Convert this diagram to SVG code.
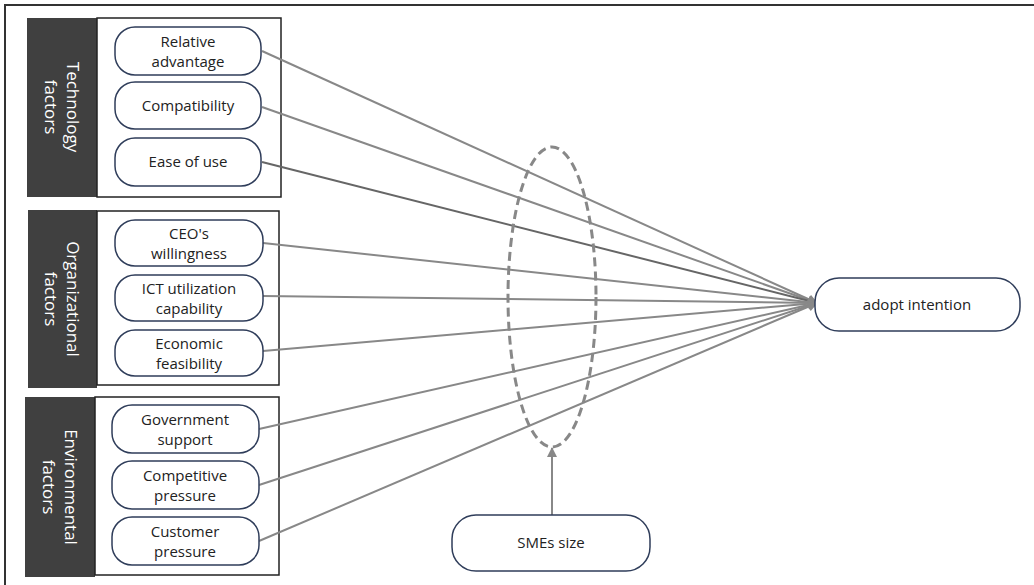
<svg xmlns="http://www.w3.org/2000/svg" width="1034" height="585" viewBox="0 0 1034 585">
<defs>
<style>
.node{fill:#fff;stroke:#2f3d5a;stroke-width:1.5}
.t{font-family:"Open Sans","Liberation Sans",sans-serif;font-size:15px;fill:#222;text-anchor:middle}
.panel{fill:#404040}
.pt{font-family:"Open Sans","Liberation Sans",sans-serif;font-size:17px;fill:#fff;text-anchor:middle}
.box{fill:none;stroke:#222;stroke-width:1.5}
.c{stroke:#888;stroke-width:2;fill:none;marker-end:url(#ah)}
</style>
<marker id="ah" viewBox="0 0 10 10" refX="9" refY="5" markerWidth="5" markerHeight="5" orient="auto" markerUnits="strokeWidth">
<path d="M0,0 L10,5 L0,10 z" fill="#888"/>
</marker>
</defs>
<rect x="0" y="0" width="1034" height="585" fill="#fff"/>
<rect x="5" y="5" width="1050" height="600" fill="none" stroke="#333" stroke-width="2"/>

<g id="tech-group">
<rect class="panel" x="27" y="18" width="70" height="179"/>
<rect class="box" x="97" y="18" width="184" height="179"/>
<text class="pt" transform="translate(62,107) rotate(90)"><tspan x="0" y="-5">Technology</tspan><tspan x="0" y="17">factors</tspan></text>
</g>
<g id="org-group">
<rect class="panel" x="28" y="210" width="69" height="178"/>
<rect class="box" x="97" y="211" width="182" height="174"/>
<text class="pt" transform="translate(62,299) rotate(90)"><tspan x="0" y="-5">Organizational</tspan><tspan x="0" y="17">factors</tspan></text>
</g>
<g id="env-group">
<rect class="panel" x="25" y="397" width="70" height="180"/>
<rect class="box" x="95" y="397" width="184" height="178"/>
<text class="pt" transform="translate(60,487) rotate(90)"><tspan x="0" y="-5">Environmental</tspan><tspan x="0" y="17">factors</tspan></text>
</g>

<g id="connectors">
<line class="c" x1="262" y1="51" x2="817" y2="303"/>
<line class="c" x1="262" y1="107" x2="817" y2="303"/>
<line class="c" x1="262" y1="162" x2="817" y2="303" style="stroke:#666"/>
<line class="c" x1="263" y1="243" x2="817" y2="303"/>
<line class="c" x1="263" y1="296" x2="817" y2="303"/>
<line class="c" x1="263" y1="351" x2="817" y2="303"/>
<line class="c" x1="259" y1="429" x2="817" y2="303"/>
<line class="c" x1="259" y1="485" x2="817" y2="303"/>
<line class="c" x1="259" y1="541" x2="817" y2="303"/>
<line class="c" x1="552" y1="515" x2="552" y2="448"/>
</g>

<g id="moderator-ellipse">
<ellipse cx="552" cy="297" rx="44" ry="150" fill="none" stroke="#888" stroke-width="3" stroke-dasharray="9,5"/>
</g>

<g id="relative-advantage"><rect class="node" x="115" y="27" width="146" height="48" rx="20"/><text class="t"><tspan x="188" y="47">Relative</tspan><tspan x="188" y="67">advantage</tspan></text></g>
<g id="compatibility"><rect class="node" x="115" y="82" width="146" height="47" rx="20"/><text class="t" x="188" y="111">Compatibility</text></g>
<g id="ease-of-use"><rect class="node" x="115" y="138" width="146" height="48" rx="20"/><text class="t" x="188" y="167">Ease of use</text></g>

<g id="ceo-willingness"><rect class="node" x="115" y="220" width="148" height="46" rx="20"/><text class="t"><tspan x="189" y="239">CEO's</tspan><tspan x="189" y="259">willingness</tspan></text></g>
<g id="ict-capability"><rect class="node" x="115" y="275" width="148" height="46" rx="20"/><text class="t"><tspan x="189" y="294">ICT utilization</tspan><tspan x="189" y="314">capability</tspan></text></g>
<g id="economic-feasibility"><rect class="node" x="115" y="330" width="148" height="46" rx="20"/><text class="t"><tspan x="189" y="349">Economic</tspan><tspan x="189" y="369">feasibility</tspan></text></g>

<g id="government-support"><rect class="node" x="112" y="405" width="147" height="48" rx="20"/><text class="t"><tspan x="185" y="425">Government</tspan><tspan x="185" y="445">support</tspan></text></g>
<g id="competitive-pressure"><rect class="node" x="112" y="461" width="147" height="48" rx="20"/><text class="t"><tspan x="185" y="481">Competitive</tspan><tspan x="185" y="501">pressure</tspan></text></g>
<g id="customer-pressure"><rect class="node" x="112" y="517" width="147" height="48" rx="20"/><text class="t"><tspan x="185" y="537">Customer</tspan><tspan x="185" y="557">pressure</tspan></text></g>

<g id="adopt-intention"><rect class="node" x="815" y="278" width="205" height="53" rx="24"/><text class="t" x="917" y="310">adopt intention</text></g>
<g id="smes-size"><rect class="node" x="452" y="515" width="198" height="56" rx="24"/><text class="t" x="551" y="548">SMEs size</text></g>
</svg>
